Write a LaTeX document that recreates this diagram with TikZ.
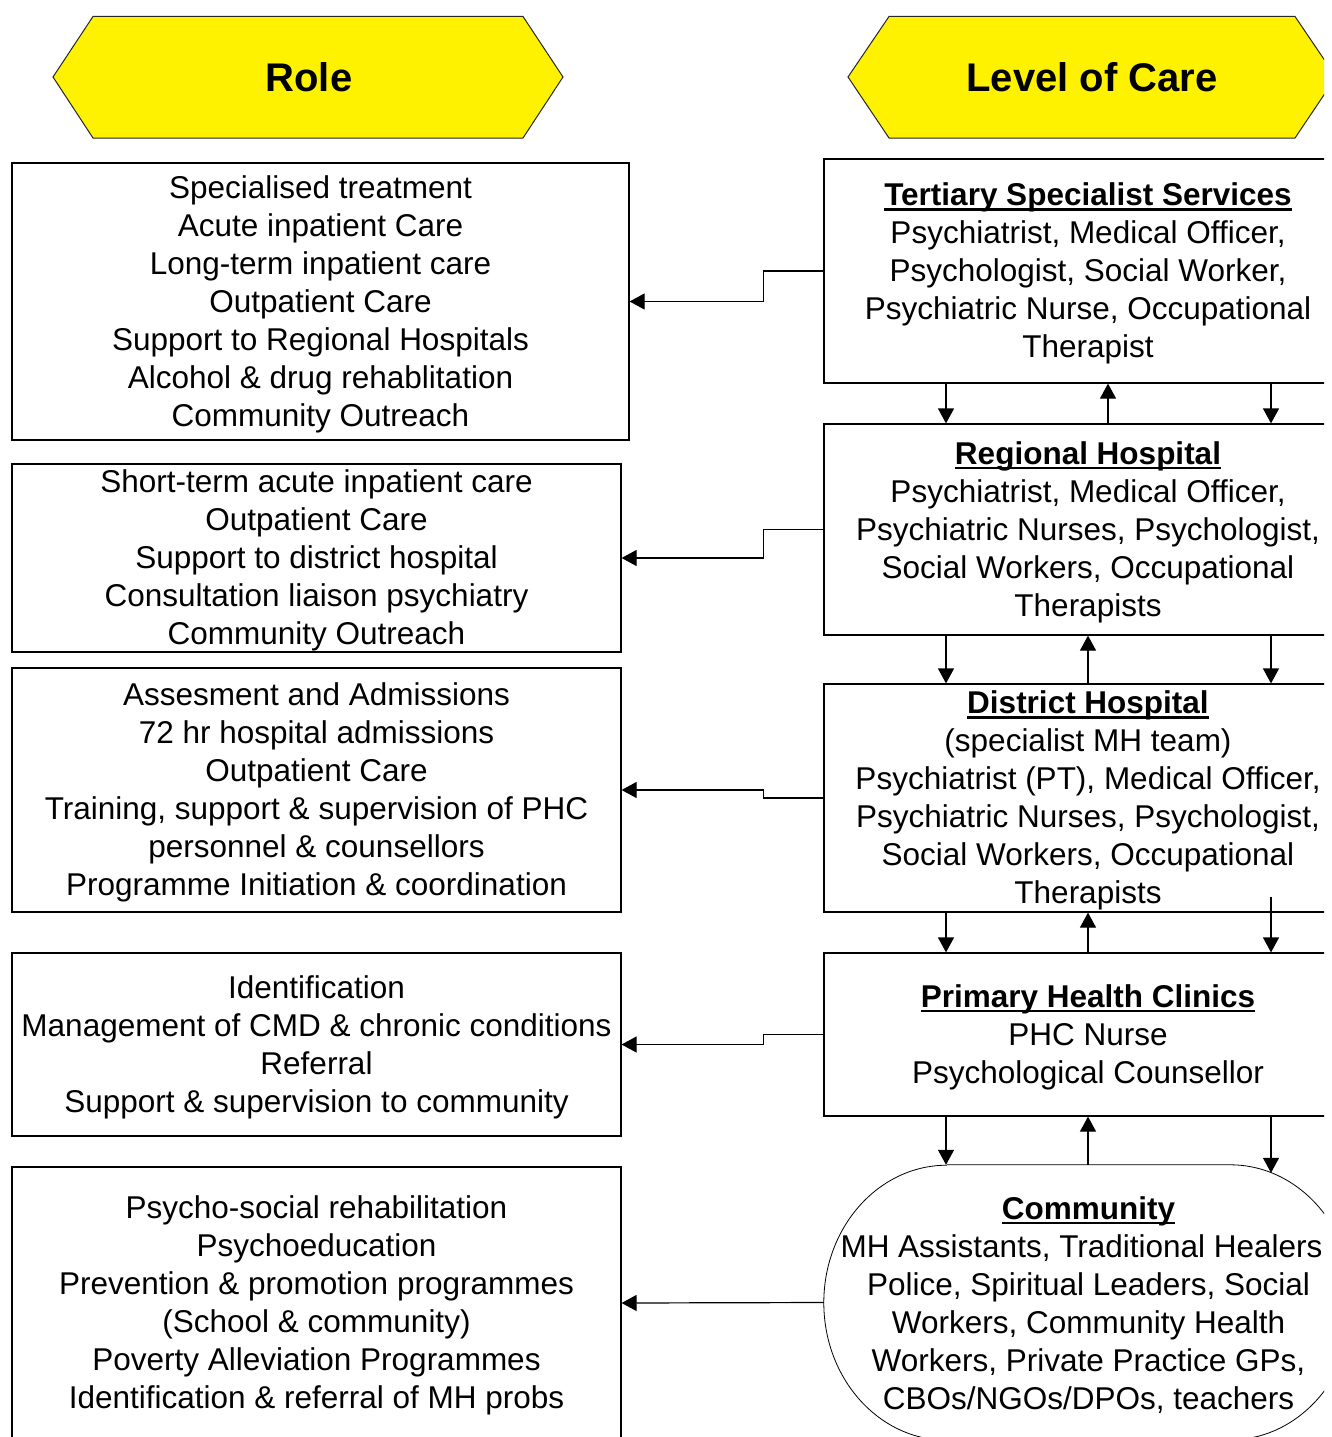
\documentclass[tikz,border=0pt]{standalone}
\usepackage{fontspec}
\setmainfont{Liberation Sans}
\usetikzlibrary{arrows.meta,calc}
% bold heading with a rule set close under the baseline
\newcommand\titleline[1]{\setbox0\hbox{\bfseries #1}\rlap{\rule[-5pt]{\wd0}{2.6pt}}\box0}
\begin{document}
\begin{tikzpicture}[x=1pt,y=-1pt,
  txt/.style={font=\fontsize{31.5}{38}\selectfont, align=center, inner sep=0pt},
  frame/.style={draw, line width=1.2pt, rectangle, inner sep=0pt},
  levelbox/.style={frame, minimum width=528pt},
  arr/.style={line width=1.2pt, -{Triangle[length=15pt,width=16pt]}},
  banner/.style={fill=yellow, draw=black!85, line width=1pt},
  bannertext/.style={font=\bfseries\fontsize{40}{48}\selectfont, inner sep=0pt}
]
\useasboundingbox (0,0) rectangle (1331,1437);
\clip (0,0) rectangle (1324,1437);

% column headings
\draw[banner] (53,77) -- (93,16.5) -- (523,16.5) -- (563,77) -- (523,138) -- (93,138) -- cycle;
\node[bannertext] (role) at (309,77) {Role};
\draw[banner] (848,77) -- (889,16.5) -- (1295,16.5) -- (1336,77) -- (1295,138) -- (889,138) -- cycle;
\node[bannertext] (level) at (1092,77) {Level of Care};

% roles
\node[frame, minimum width=617pt, minimum height=277pt] (L1) at (320.5,301.5) {};
\node[txt] (L1t) at ([yshift=-2.5pt]L1.center)
  {Specialised treatment\\Acute inpatient Care\\Long-term inpatient care\\Outpatient Care\\Support to Regional Hospitals\\Alcohol \& drug rehablitation\\Community Outreach};
\node[frame, minimum width=609pt, minimum height=188pt] (L2) at (316.5,558) {};
\node[txt] (L2t) at ([yshift=-2.5pt]L2.center)
  {Short-term acute inpatient care\\Outpatient Care\\Support to district hospital\\Consultation liaison psychiatry\\Community Outreach};
\node[frame, minimum width=609pt, minimum height=244pt] (L3) at (316.5,790) {};
\node[txt] (L3t) at ([yshift=-2.5pt]L3.center)
  {Assesment and Admissions\\72 hr hospital admissions\\Outpatient Care\\Training, support \& supervision of PHC\\personnel \& counsellors\\Programme Initiation \& coordination};
\node[frame, minimum width=609pt, minimum height=183pt] (L4) at (316.5,1044.5) {};
\node[txt] (L4t) at ([yshift=-2.5pt]L4.center)
  {Identification\\Management of CMD \& chronic conditions\\Referral\\Support \& supervision to community};
\node[frame, minimum width=609pt, minimum height=272pt] (L5) at (316.5,1303) {};
\node[txt] (L5t) at ([yshift=-2.5pt]L5.center)
  {Psycho-social rehabilitation\\Psychoeducation\\Prevention \& promotion programmes\\(School \& community)\\Poverty Alleviation Programmes\\Identification \& referral of MH probs};

% levels of care
\node[levelbox, minimum height=224pt] (R1) at (1088,271) {};
\node[txt] (R1t) at ([yshift=-2.5pt]R1.center)
  {\titleline{Tertiary Specialist Services}\\Psychiatrist, Medical Officer,\\Psychologist, Social Worker,\\Psychiatric Nurse, Occupational\\Therapist};
\node[levelbox, minimum height=211pt] (R2) at (1088,529.5) {};
\node[txt] (R2t) at ([yshift=-2.5pt]R2.center)
  {\titleline{Regional Hospital}\\Psychiatrist, Medical Officer,\\Psychiatric Nurses, Psychologist,\\Social Workers, Occupational\\Therapists};
\node[levelbox, minimum height=228pt] (R3) at (1088,798) {};
\node[txt] (R3t) at ([yshift=-2.5pt]R3.center)
  {\titleline{District Hospital}\\(specialist MH team)\\Psychiatrist (PT), Medical Officer,\\Psychiatric Nurses, Psychologist,\\Social Workers, Occupational\\Therapists};
\node[levelbox, minimum height=163pt] (R4) at (1088,1034.5) {};
\node[txt] (R4t) at ([yshift=-2.5pt]R4.center)
  {\titleline{Primary Health Clinics}\\PHC Nurse\\Psychological Counsellor};
\node[inner sep=0pt, minimum width=529pt, minimum height=275pt] (R5) at (1088.5,1302.5) {};
\node[txt] (R5t) at ([yshift=-2.5pt]R5.center)
  {\titleline{Community}\\MH Assistants, Traditional Healers\rule{14pt}{0pt}\\Police, Spiritual Leaders, Social\\Workers, Community Health\\Workers, Private Practice GPs,\\CBOs/NGOs/DPOs, teachers};
% community outline: flat top and bottom with wide elliptical ends
\draw[line width=0.8pt] ([xshift=123pt]R5.north west) -- ([xshift=-123pt]R5.north east)
  arc[start angle=90, end angle=0, x radius=123pt, y radius=137.5pt]
  arc[start angle=0, end angle=-90, x radius=123pt, y radius=137.5pt]
  -- ([xshift=123pt]R5.south west)
  arc[start angle=270, end angle=180, x radius=123pt, y radius=137.5pt]
  arc[start angle=180, end angle=90, x radius=123pt, y radius=137.5pt];

% level -> role connectors
\draw[arr] (R1.west) -- ++(-60,0) |- (L1.east);
\draw[arr] (R2.west) -- ++(-60,0) |- (L2.east);
\draw[arr] (R3.west) -- ++(-60,0) |- (L3.east);
\draw[arr] (R4.west) -- ++(-60,0) |- (L4.east);
\draw[arr] (R5.west) -- (L5.east);

% referral columns between levels
\coordinate (cl) at (946,0);
\coordinate (cm) at (1088,0);
\coordinate (cmt) at (1108,0);
\coordinate (cr) at (1271,0);

\draw[arr] (R1.south -| cl) -- (R2.north -| cl);
\draw[arr] (R2.north -| cmt) -- (R1.south -| cmt);
\draw[arr] (R1.south -| cr) -- (R2.north -| cr);

\draw[arr] (R2.south -| cl) -- (R3.north -| cl);
\draw[arr] (R3.north -| cm) -- (R2.south -| cm);
\draw[arr] (R2.south -| cr) -- (R3.north -| cr);

\draw[arr] (R3.south -| cl) -- (R4.north -| cl);
\draw[arr] (R4.north -| cm) -- (R3.south -| cm);
\draw[arr] ([yshift=16pt]R3.south -| cr) -- (R4.north -| cr);

\draw[arr] (R4.south -| cl) -- (R5.north -| cl);
\draw[arr] (R5.north -| cm) -- (R4.south -| cm);
\draw[arr] (R4.south -| cr) -- ([yshift=-8pt]R5.north -| cr);
\end{tikzpicture}
\end{document}
